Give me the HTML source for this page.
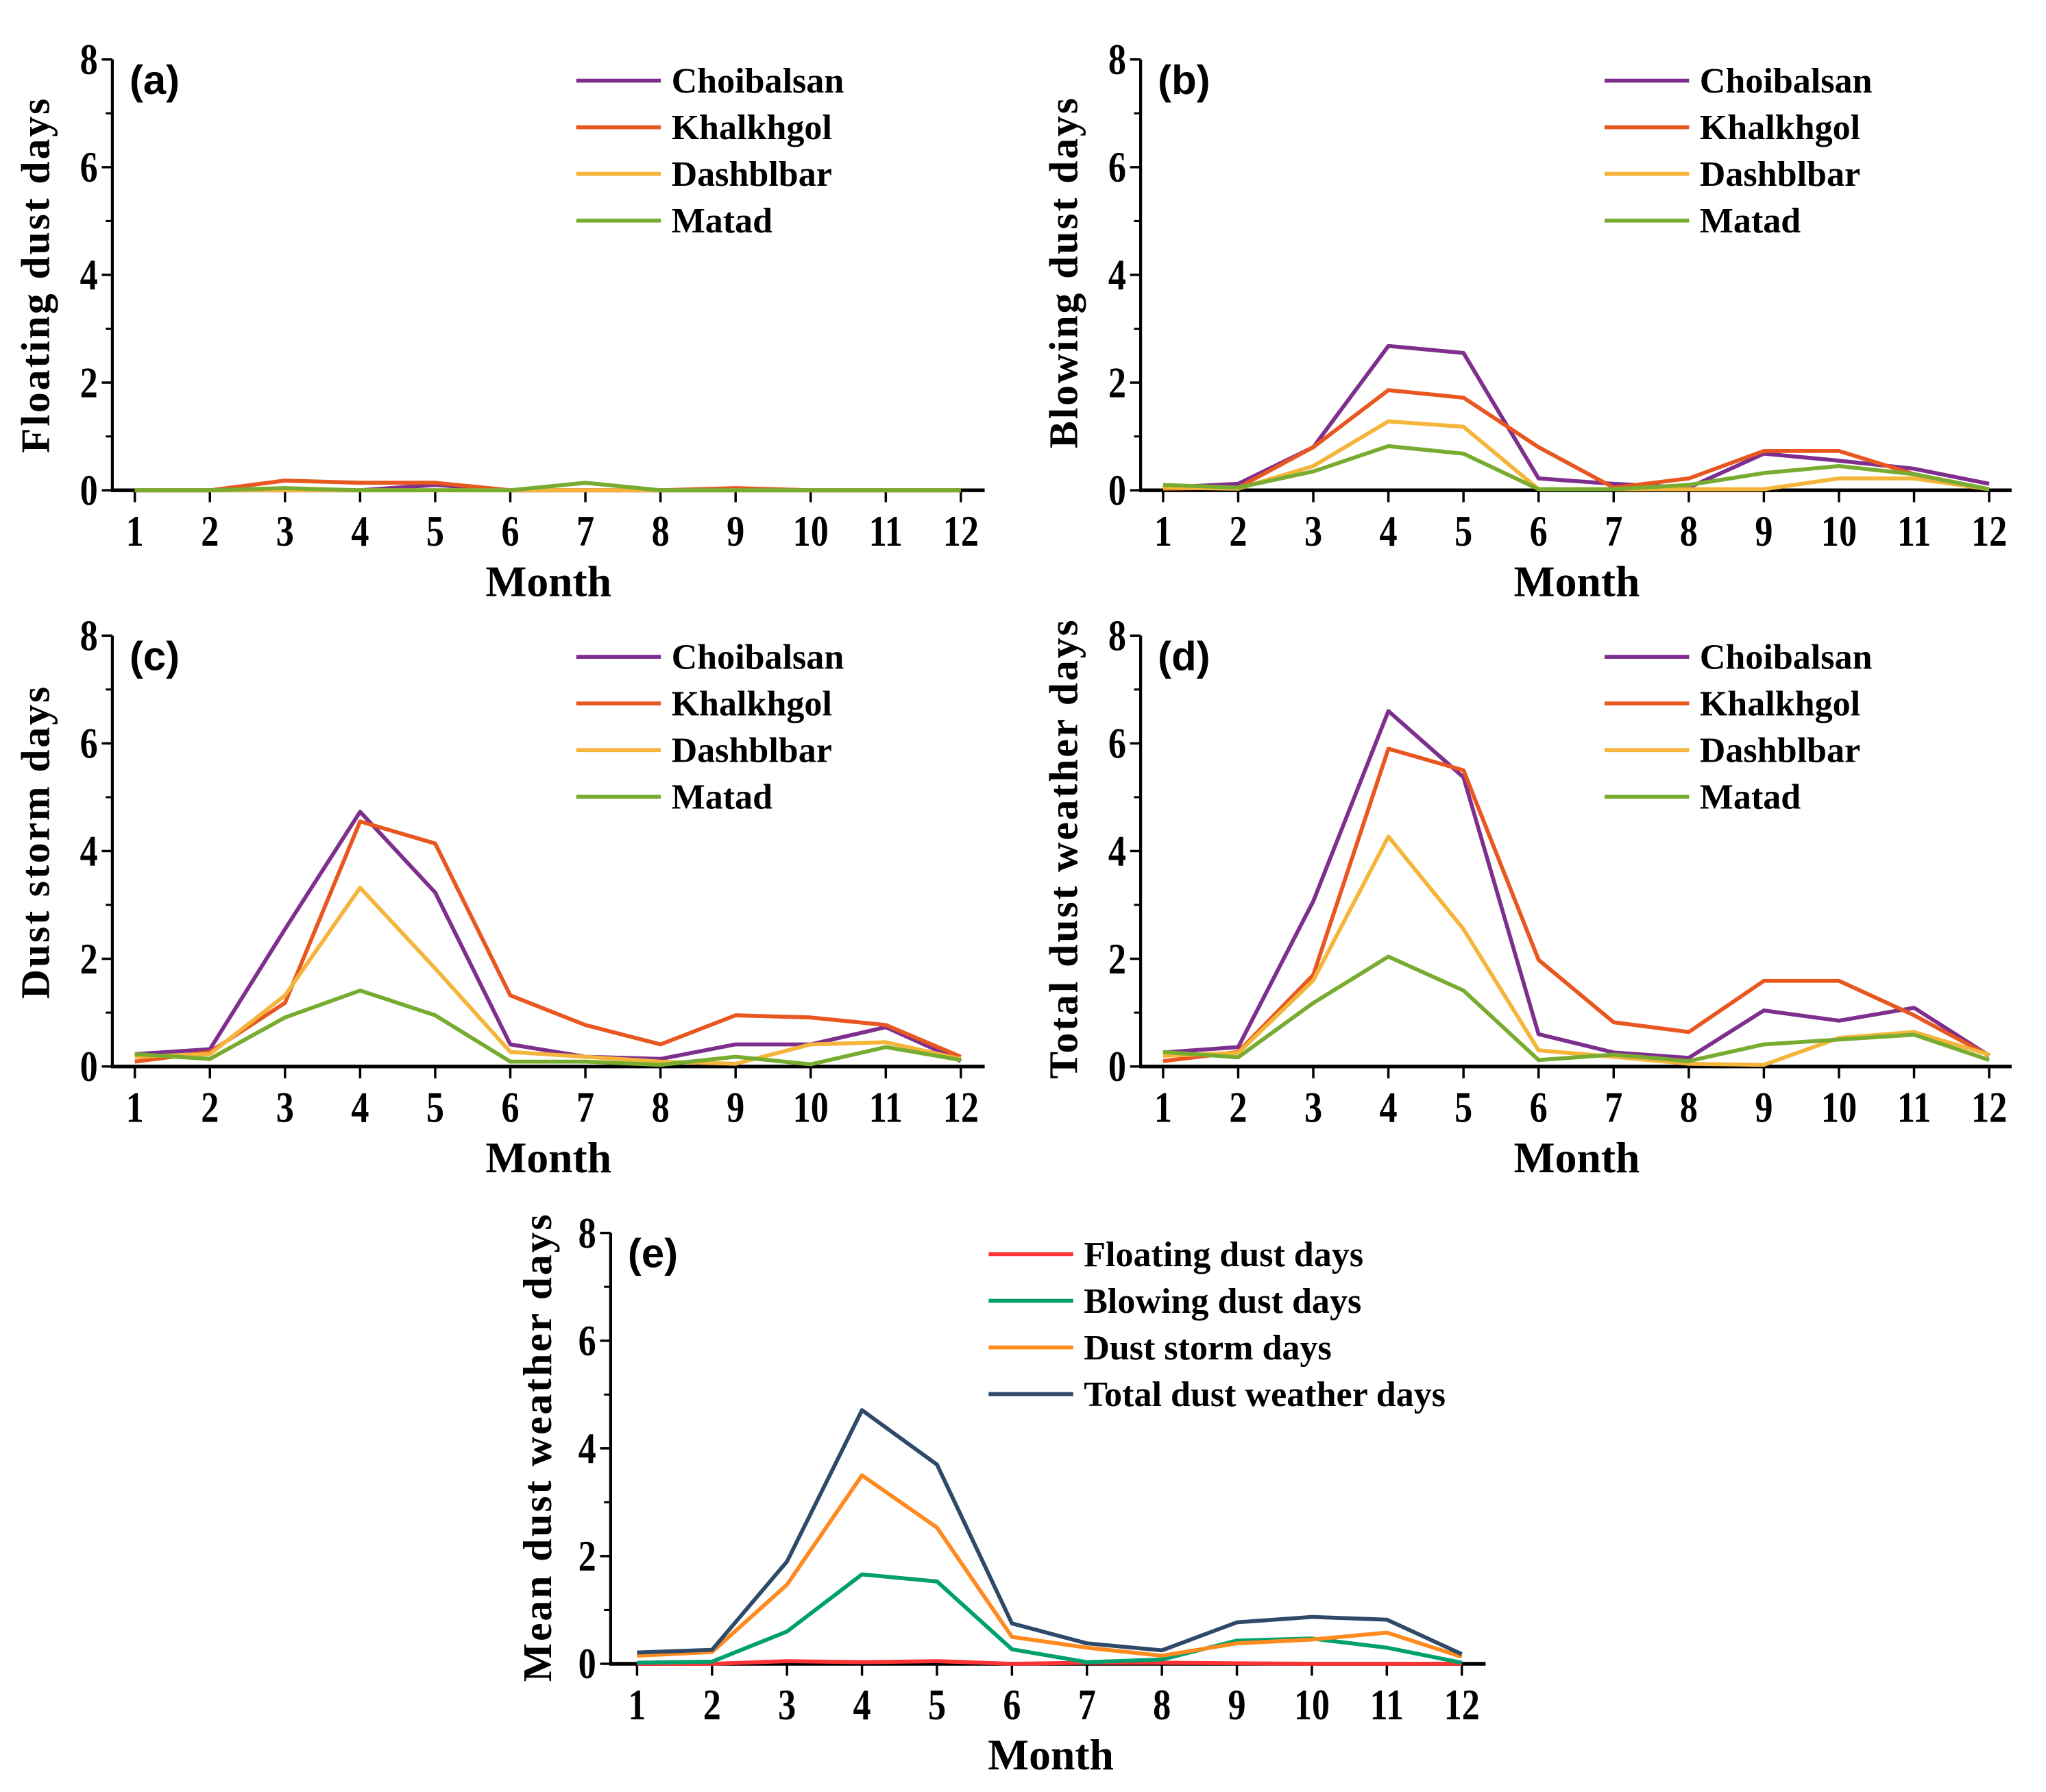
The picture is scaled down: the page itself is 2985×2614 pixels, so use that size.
<!DOCTYPE html>
<html><head><meta charset="utf-8"><style>
html,body{margin:0;padding:0;background:#fff;}
svg{display:block;}
text{font-family:"Liberation Serif",serif;font-weight:bold;fill:#000;}
.sans{font-family:"Liberation Sans",sans-serif;}
</style></head><body>
<svg id="fig" width="2985" height="2614" viewBox="0 0 1548 1356" preserveAspectRatio="none" xmlns="http://www.w3.org/2000/svg"></svg>
<script>
const months = [1,2,3,4,5,6,7,8,9,10,11,12];
const yTicks = [0,2,4,6,8];
const stations = ["Choibalsan","Khalkhgol","Dashblbar","Matad"];
const stationColors = ["#7E2F8E","#E8571F","#F5B43A","#77AC30"];
// (a) Floating dust days
const floatChoibalsan = [0,0,0,0,0.1,0,0,0,0,0,0,0];
const floatKhalkhgol  = [0,0,0.18,0.14,0.14,0,0,0,0.04,0,0,0];
const floatDashblbar  = [0,0,0,0,0,0,0,0,0,0,0,0];
const floatMatad      = [0,0,0.04,0,0,0,0.14,0,0,0,0,0];
// (b) Blowing dust days
const blowChoibalsan = [0.05,0.12,0.8,2.68,2.55,0.22,0.12,0.05,0.68,0.55,0.4,0.12];
const blowKhalkhgol  = [0.03,0.05,0.8,1.86,1.72,0.8,0.05,0.22,0.73,0.73,0.3,0.02];
const blowDashblbar  = [0.05,0.03,0.45,1.28,1.18,0.02,0.02,0.02,0.02,0.22,0.22,0.02];
const blowMatad      = [0.1,0.05,0.35,0.82,0.68,0.02,0.02,0.1,0.32,0.45,0.3,0.02];
// (c) Dust storm days
const stormChoibalsan = [0.23,0.32,2.55,4.73,3.23,0.41,0.18,0.14,0.41,0.41,0.73,0.1];
const stormKhalkhgol  = [0.09,0.27,1.18,4.55,4.14,1.32,0.77,0.41,0.95,0.91,0.77,0.18];
const stormDashblbar  = [0.18,0.23,1.32,3.32,1.82,0.27,0.18,0.09,0.05,0.41,0.45,0.14];
const stormMatad      = [0.23,0.14,0.91,1.41,0.95,0.09,0.09,0.03,0.18,0.04,0.36,0.12];
// (d) Total dust weather days
const totalChoibalsan = [0.26,0.36,3.07,6.6,5.37,0.6,0.26,0.16,1.04,0.85,1.09,0.2];
const totalKhalkhgol  = [0.1,0.27,1.7,5.9,5.5,1.98,0.82,0.64,1.59,1.59,0.95,0.2];
const totalDashblbar  = [0.2,0.25,1.6,4.27,2.55,0.3,0.18,0.05,0.03,0.53,0.64,0.22];
const totalMatad      = [0.27,0.17,1.18,2.04,1.41,0.12,0.22,0.1,0.41,0.5,0.59,0.12];
// (e) Mean dust weather days
const meanNames  = ["Floating dust days","Blowing dust days","Dust storm days","Total dust weather days"];
const meanColors = ["#FF3333","#00A06E","#FF8A1E","#2E4A68"];
const meanFloating = [0,0,0.05,0.03,0.05,0,0.02,0.02,0.01,0,0,0];
const meanBlowing  = [0.02,0.04,0.6,1.66,1.53,0.27,0.03,0.08,0.43,0.47,0.3,0.02];
const meanStorm    = [0.15,0.22,1.47,3.5,2.53,0.5,0.3,0.15,0.38,0.45,0.58,0.13];
const meanTotal    = [0.21,0.26,1.9,4.71,3.7,0.75,0.38,0.25,0.77,0.87,0.82,0.18];

const NS="http://www.w3.org/2000/svg";
const svg=document.getElementById('fig');
function mk(tag,attrs,parent){const e=document.createElementNS(NS,tag);for(const k in attrs)e.setAttribute(k,attrs[k]);(parent||svg).appendChild(e);return e;}

function panel(id,cfg,seriesList,names,colors){
  const g=mk('g',{});
  
  
  const {ax,x1,x12,xe,y8,y0}=cfg;
  const xs=m=>x1+(m-1)*(x12-x1)/11;
  const ys=v=>y0-v*(y0-y8)/8;
  const ya=mk('line',{x1:ax,y1:y8,x2:ax,y2:y0+1,stroke:'#000','stroke-width':2.2},g);
  
  
  const xa=mk('line',{x1:ax-1,y1:y0,x2:xe,y2:y0,stroke:'#000','stroke-width':2.8},g);
  
  
  for(let v=1;v<8;v+=2){mk('line',{x1:ax-5,y1:ys(v),x2:ax,y2:ys(v),stroke:'#000','stroke-width':1.6},g);}
  yTicks.forEach(v=>{
    mk('line',{x1:ax-8,y1:ys(v),x2:ax,y2:ys(v),stroke:'#000','stroke-width':1.8},g);
    const t=mk('text',{x:ax-11,y:ys(v)+11,'text-anchor':'end','font-size':33,transform:`translate(${ax-11},${ys(v)}) scale(0.82,1) translate(${-(ax-11)},${-ys(v)})`},g);
    t.textContent=v;
    
    
  });
  months.forEach(m=>{
    mk('line',{x1:xs(m),y1:y0,x2:xs(m),y2:y0+9,stroke:'#000','stroke-width':1.8},g);
    const t=mk('text',{x:xs(m),y:y0+42,'text-anchor':'middle','font-size':33,transform:`translate(${xs(m)},0) scale(0.82,1) translate(${-xs(m)},0)`},g);
    t.textContent=m;
    
    
  });
  const mt=mk('text',{x:cfg.mx,y:y0+80,'text-anchor':'middle','font-size':33},g);
  mt.textContent='Month';
  
  
  const yl=mk('text',{x:0,y:0,'text-anchor':'middle','font-size':31,transform:`translate(${cfg.ylx},${cfg.yly}) rotate(-90)`,'letter-spacing':'1.5'},g);
  yl.textContent=cfg.ylabel;
  
  
  const pl=mk('text',{x:ax+13,y:y8+26,'font-size':31,class:'sans'},g);
  pl.textContent='('+id+')';
  
  
  seriesList.forEach((arr,i)=>{
    const p=mk('polyline',{points:arr.map((v,j)=>xs(months[j])+','+ys(v)).join(' '),fill:'none',stroke:colors[i],'stroke-width':3,'stroke-linejoin':'round'},g);
    
    
  });
  names.forEach((n,i)=>{
    const ly=cfg.ly+i*35.3;
    const lg=mk('g',{},g);
    
    
    mk('line',{x1:cfg.lx,y1:ly,x2:cfg.lx+64,y2:ly,stroke:colors[i],'stroke-width':3},lg);
    const t=mk('text',{x:cfg.lx+72,y:ly+9,'font-size':27},lg);
    t.textContent=n;
  });
}
panel('a',{ax:85,x1:102,x12:727,xe:745,y8:45,y0:371,mx:415,ylx:37,yly:208,ylabel:'Floating dust days',lx:436,ly:61},
  [floatChoibalsan,floatKhalkhgol,floatDashblbar,floatMatad],stations,stationColors);
panel('b',{ax:863,x1:880,x12:1505,xe:1522,y8:45,y0:371,mx:1193,ylx:815,yly:206,ylabel:'Blowing dust days',lx:1214,ly:61},
  [blowChoibalsan,blowKhalkhgol,blowDashblbar,blowMatad],stations,stationColors);
panel('c',{ax:85,x1:102,x12:727,xe:745,y8:481,y0:807,mx:415,ylx:37,yly:637,ylabel:'Dust storm days',lx:436,ly:497},
  [stormChoibalsan,stormKhalkhgol,stormDashblbar,stormMatad],stations,stationColors);
panel('d',{ax:863,x1:880,x12:1505,xe:1522,y8:481,y0:807,mx:1193,ylx:815,yly:642,ylabel:'Total dust weather days',lx:1214,ly:497},
  [totalChoibalsan,totalKhalkhgol,totalDashblbar,totalMatad],stations,stationColors);
panel('e',{ax:462,x1:482,x12:1106,xe:1124,y8:933,y0:1259,mx:795,ylx:417,yly:1095,ylabel:'Mean dust weather days',lx:748,ly:949},
  [meanFloating,meanBlowing,meanStorm,meanTotal],meanNames,meanColors);
</script>
</body></html>
